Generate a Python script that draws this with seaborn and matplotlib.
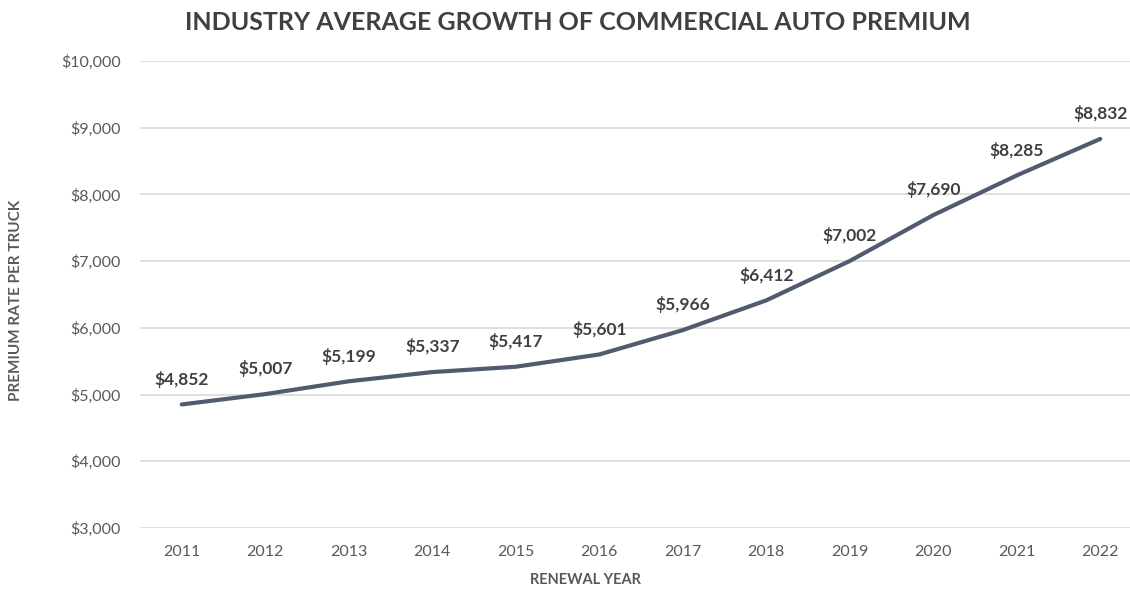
import seaborn as sns
import matplotlib.pyplot as plt
import pandas as pd

years = [2011, 2012, 2013, 2014, 2015, 2016, 2017, 2018, 2019, 2020, 2021, 2022]
premium = [4852, 5007, 5199, 5337, 5417, 5601, 5966, 6412, 7002, 7690, 8285, 8832]
yticks = [3000, 4000, 5000, 6000, 7000, 8000, 9000, 10000]

df = pd.DataFrame({'Year': years, 'Premium': premium})

sns.set_style("white")
plt.rcParams['font.family'] = ['Lato', 'DejaVu Sans']

fig = plt.figure(figsize=(11.3, 5.89), dpi=100)
ax = fig.add_axes([140 / 1130, 61 / 589, 1002 / 1130, 467 / 589])

sns.lineplot(x='Year', y='Premium', data=df, ax=ax, color='#515b70', linewidth=3, zorder=3)

for x, y in zip(years, premium):
    ax.annotate('${:,}'.format(y), (x, y), xytext=(0, 12), textcoords='offset points',
                ha='center', va='bottom', fontsize=12.5, fontweight='bold', color='#404040')

ax.set_xlim(2010.5, 2022.5)
ax.set_ylim(3000, 10000)
ax.set_xticks(years)
ax.set_xticklabels([str(y) for y in years])
ax.set_yticks(yticks)
ax.set_yticklabels(['${:,}'.format(v) for v in yticks])
ax.tick_params(axis='x', labelsize=11.5, colors='#595959', length=0, pad=12)
ax.tick_params(axis='y', labelsize=11.5, colors='#595959', length=0, pad=14)
ax.grid(axis='y', color='#d9d9d9', linewidth=1.2)
ax.set_axisbelow(True)
for s in ax.spines.values():
    s.set_visible(False)

ax.set_xlabel('RENEWAL YEAR', fontsize=10.5, fontweight='bold', color='#595959')
ax.xaxis.set_label_coords((585 - 140) / 1002, -45 / 467)
ax.set_ylabel('PREMIUM RATE PER TRUCK', fontsize=11, fontweight='bold', color='#595959')
ax.yaxis.set_label_coords(-117 / 1002, (589 - 300 - 61) / 467)

fig.text(578 / 1130, 1 - 22 / 589, 'INDUSTRY AVERAGE GROWTH OF COMMERCIAL AUTO PREMIUM',
         ha='center', va='center', fontsize=18, fontweight='bold', color='#404040')

fig.savefig('out.png', dpi=100)
